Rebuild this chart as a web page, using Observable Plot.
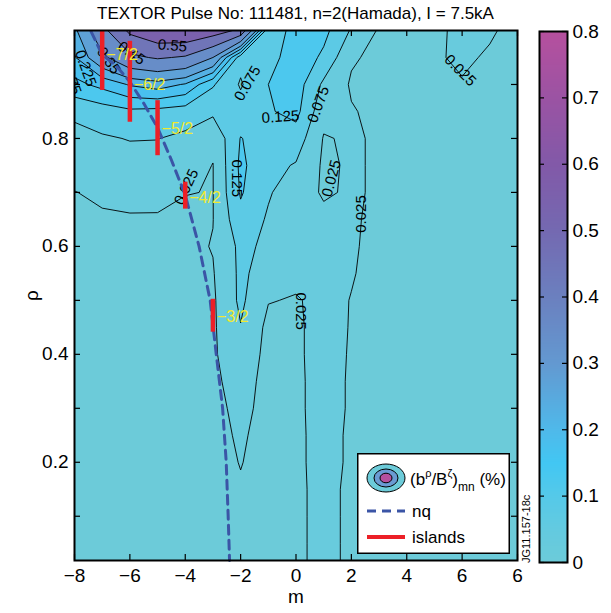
<!DOCTYPE html>
<html>
<head>
<meta charset="utf-8">
<script src="https://cdn.jsdelivr.net/npm/d3@7"></script>
<script src="https://cdn.jsdelivr.net/npm/@observablehq/plot@0.6"></script>
<style>
  body { margin: 0; background: #fff; font-family: "Liberation Sans", Arial, sans-serif; }
  #wrap { position: relative; width: 611px; height: 613px; overflow: hidden; background: #fff; }
  #title { position: absolute; left: 0; top: 4px; width: 591px; text-align: center; font-size: 17px; color: #000; white-space: nowrap; }
  #main { position: absolute; left: 0; top: 0; }
  #cbar { position: absolute; left: 520px; top: 0; }
  #legend { position: absolute; left: 357px; top: 453px; }
  #jg { position: absolute; left: 518px; top: 440px; }
</style>
</head>
<body>
<div id="wrap">
  <div id="main"></div>
  <div id="cbar"></div>
  <div id="title">TEXTOR Pulse No: 111481, n=2(Hamada), I = 7.5kA</div>
  <svg id="legend" width="153" height="101">
    <rect x="0.75" y="0.75" width="151.5" height="99.5" fill="#fff" stroke="#000" stroke-width="1.5"/>
    <ellipse cx="29" cy="25" rx="19" ry="14" fill="#6ccbd9" stroke="#000" stroke-width="1"/>
    <ellipse cx="29" cy="25" rx="12" ry="9" fill="#6a9bd3" stroke="#000" stroke-width="1"/>
    <ellipse cx="29" cy="25" rx="6" ry="4.8" fill="#b6509e" stroke="#000" stroke-width="1"/>
    <text x="53" y="32" font-size="17" font-family="Liberation Sans, Arial, sans-serif">(b<tspan font-size="11" dy="-8">ρ</tspan><tspan dy="8">/B</tspan><tspan font-size="11" dy="-8">ζ</tspan><tspan dy="8">)</tspan><tspan font-size="12" dy="6">mn</tspan><tspan dy="-6"> (%)</tspan></text>
    <line x1="10" y1="58" x2="48" y2="58" stroke="#3b55a6" stroke-width="3" stroke-dasharray="9,6"/>
    <text x="55" y="64" font-size="17" font-family="Liberation Sans, Arial, sans-serif">nq</text>
    <line x1="10" y1="84" x2="48" y2="84" stroke="#ec2027" stroke-width="4"/>
    <text x="55" y="90" font-size="17" font-family="Liberation Sans, Arial, sans-serif">islands</text>
  </svg>
  <svg id="jg" width="16" height="126">
    <text transform="translate(12,123) rotate(-90)" font-size="11" font-family="Liberation Sans, Arial, sans-serif">JG11.157-18c</text>
  </svg>
</div>
<script>
// ---------------- data ----------------
const mGrid = [-8, -7, -6, -5, -4, -3, -2, -1, 0, 1, 2, 3, 4, 5, 6, 7, 8];
const rhoGrid = [1.0, 0.95, 0.9, 0.85, 0.8, 0.75, 0.7, 0.65, 0.6, 0.55, 0.5, 0.45, 0.4, 0.35, 0.3, 0.25, 0.2, 0.15, 0.1, 0.05, 0.0];
// |b^rho/B^zeta|_mn (%) ; one row per rho (top to bottom), one column per m
const amplitude = [
  [0.26, 0.42, 0.57, 0.63, 0.64, 0.60, 0.53, 0.08, 0.15, 0.14, 0.07, 0.02, 0.015, 0.012, 0.04, 0.03, 0.012],
  [0.22, 0.33, 0.43, 0.46, 0.44, 0.35, 0.09, 0.10, 0.16, 0.115, 0.03, 0.015, 0.013, 0.02, 0.032, 0.02, 0.012],
  [0.16, 0.19, 0.23, 0.25, 0.22, 0.13, 0.07, 0.125, 0.15, 0.065, 0.02, 0.015, 0.013, 0.015, 0.022, 0.017, 0.012],
  [0.085, 0.10, 0.115, 0.11, 0.10, 0.085, 0.095, 0.12, 0.14, 0.04, 0.028, 0.015, 0.013, 0.013, 0.015, 0.014, 0.012],
  [0.06, 0.07, 0.077, 0.076, 0.065, 0.035, 0.127, 0.10, 0.102, 0.022, 0.03, 0.02, 0.014, 0.013, 0.013, 0.013, 0.012],
  [0.042, 0.05, 0.057, 0.058, 0.045, 0.024, 0.135, 0.09, 0.071, 0.018, 0.03, 0.02, 0.014, 0.013, 0.012, 0.012, 0.011],
  [0.024, 0.032, 0.038, 0.04, 0.026, 0.024, 0.13, 0.08, 0.047, 0.02, 0.03, 0.02, 0.014, 0.013, 0.012, 0.012, 0.011],
  [0.017, 0.02, 0.021, 0.02, 0.018, 0.024, 0.11, 0.069, 0.045, 0.035, 0.029, 0.018, 0.014, 0.013, 0.012, 0.011, 0.011],
  [0.013, 0.015, 0.015, 0.015, 0.014, 0.027, 0.086, 0.066, 0.045, 0.04, 0.029, 0.015, 0.013, 0.012, 0.012, 0.011, 0.01],
  [0.011, 0.012, 0.012, 0.013, 0.013, 0.022, 0.085, 0.052, 0.035, 0.04, 0.027, 0.015, 0.013, 0.012, 0.011, 0.011, 0.01],
  [0.01, 0.011, 0.011, 0.012, 0.012, 0.018, 0.085, 0.027, 0.022, 0.035, 0.024, 0.014, 0.012, 0.011, 0.011, 0.01, 0.01],
  [0.01, 0.01, 0.011, 0.011, 0.012, 0.018, 0.073, 0.013, 0.022, 0.032, 0.024, 0.013, 0.012, 0.011, 0.01, 0.01, 0.01],
  [0.01, 0.01, 0.01, 0.011, 0.011, 0.018, 0.06, 0.01, 0.022, 0.032, 0.0235, 0.013, 0.012, 0.011, 0.01, 0.01, 0.01],
  [0.01, 0.01, 0.01, 0.01, 0.011, 0.013, 0.05, 0.006, 0.0215, 0.032, 0.023, 0.013, 0.012, 0.011, 0.01, 0.01, 0.009],
  [0.009, 0.009, 0.01, 0.01, 0.01, 0.009, 0.04, 0.0074, 0.0215, 0.032, 0.023, 0.013, 0.012, 0.011, 0.01, 0.01, 0.009],
  [0.009, 0.009, 0.009, 0.01, 0.01, 0.0063, 0.033, 0.003, 0.021, 0.032, 0.022, 0.013, 0.012, 0.011, 0.01, 0.009, 0.009],
  [0.009, 0.009, 0.009, 0.009, 0.009, 0.005, 0.027, 0.005, 0.021, 0.032, 0.022, 0.012, 0.011, 0.01, 0.01, 0.009, 0.009],
  [0.008, 0.008, 0.009, 0.009, 0.009, 0.006, 0.02, 0.006, 0.021, 0.031, 0.021, 0.012, 0.011, 0.01, 0.009, 0.009, 0.008],
  [0.008, 0.008, 0.008, 0.008, 0.008, 0.007, 0.015, 0.008, 0.021, 0.031, 0.021, 0.012, 0.011, 0.01, 0.009, 0.009, 0.008],
  [0.008, 0.008, 0.008, 0.008, 0.008, 0.007, 0.012, 0.009, 0.021, 0.031, 0.021, 0.012, 0.011, 0.01, 0.009, 0.009, 0.008],
  [0.008, 0.008, 0.008, 0.008, 0.008, 0.007, 0.01, 0.009, 0.021, 0.031, 0.021, 0.012, 0.011, 0.01, 0.009, 0.009, 0.008]
];
const contourLevels = [0.025, 0.075, 0.125, 0.175, 0.225, 0.275, 0.35, 0.45, 0.55, 0.65];

// nq curve (m = -n q(rho))
const nqM   = [-7.4, -7.0, -6.5, -6.0, -5.5, -5.0, -4.5, -4.0, -3.5, -3.1, -2.88, -2.65, -2.52, -2.45, -2.4];
const nqRho = [0.998, 0.955, 0.935, 0.905, 0.865, 0.82, 0.76, 0.695, 0.6, 0.5, 0.4, 0.3, 0.2, 0.1, 0.018];

// islands
const islandM      = [-7, -6, -5, -4, -3];
const islandRhoLo  = [0.889, 0.83, 0.768, 0.669, 0.441];
const islandRhoHi  = [1.0, 0.98, 0.87, 0.719, 0.502];
const islandRhoLab = [0.955, 0.9, 0.818, 0.69, 0.47];
const islandText   = ["\u22127/2", "\u22126/2", "\u22125/2", "\u22124/2", "\u22123/2"];

// contour labels
const labM     = [-4.46, -5.94, -6.77, -7.6, -8.15, -1.75, -0.56, 0.81, -2.12, -3.96, 0.16, 2.36, 1.28, 5.93];
const labRho   = [0.972, 0.958, 0.944, 0.93, 0.915, 0.902, 0.84, 0.863, 0.726, 0.71, 0.48, 0.66, 0.726, 0.926];
const labText  = ["0.55", "0.45", "0.35", "0.225", "0.175", "0.075", "0.125", "0.075", "0.125", "0.025", "0.025", "0.025", "0.025", "0.025"];
const labAngle = [5, 35, 55, 70, 70, -60, -4, -70, 90, -65, 90, -90, -75, 45];

// axes
const xTicks = [-8, -6, -4, -2, 0, 2, 4, 6, 8];
const xTickLabels = ["\u22128", "\u22126", "\u22124", "\u22122", "0", "2", "4", "6", "6"];
const yTicks = [0.2, 0.4, 0.6, 0.8];
const yTickLabels = ["0.2", "0.4", "0.6", "0.8"];
const yMinorTicks = [0.1, 0.2, 0.3, 0.4, 0.5, 0.6, 0.7, 0.8, 0.9];
const cbTicks = [0, 0.1, 0.2, 0.3, 0.4, 0.5, 0.6, 0.7, 0.8];
const cbTickLabels = ["0", "0.1", "0.2", "0.3", "0.4", "0.5", "0.6", "0.7", "0.8"];

// colour map
const colorDomain = [0, 0.05, 0.1, 0.15, 0.2, 0.3, 0.4, 0.5, 0.6, 0.7, 0.8];
const colorRange  = ["#6ccbd9", "#63cae0", "#55c9e9", "#42c7f3", "#4fb9ea", "#6399d1", "#6b80bf", "#7469b1", "#8259a8", "#9b53a3", "#b6509e"];

// ---------------- build ----------------
const nx = mGrid.length, ny = rhoGrid.length;
const dm = mGrid[1] - mGrid[0], dr = rhoGrid[0] - rhoGrid[1];
const grid = {width: nx, height: ny,
  x1: mGrid[0] - dm / 2, x2: mGrid[nx - 1] + dm / 2,
  y1: rhoGrid[0] + dr / 2, y2: rhoGrid[ny - 1] - dr / 2};
const values = amplitude.flat();

const nqData = nqM.map((m, i) => ({m, rho: nqRho[i]}));
const islands = islandM.map((m, i) => ({m, lo: islandRhoLo[i], hi: islandRhoHi[i], lab: islandRhoLab[i], text: islandText[i]}));
const labels = labM.map((m, i) => ({m, rho: labRho[i], text: labText[i], angle: labAngle[i]}));

const color = {type: "linear", domain: colorDomain, range: colorRange};
const font = "Liberation Sans, Arial, Helvetica, sans-serif";

const W = 530, H = 613, mL = 74, mR = 13, mT = 30, mB = 53;
const innerW = W - mL - mR, innerH = H - mT - mB;
const tick = 6;

const main = Plot.plot({
  width: W, height: H, marginLeft: mL, marginRight: mR, marginTop: mT, marginBottom: mB,
  style: {fontFamily: font, fontSize: "19px", background: "transparent", color: "black", overflow: "visible"},
  x: {domain: [-8, 8]},
  y: {domain: [0.018, 1.0]},
  color,
  marks: [
    Plot.contour(values, {...grid, fill: Plot.identity, thresholds: [0, ...contourLevels], stroke: "none", clip: true}),
    Plot.contour(values, {...grid, value: Plot.identity, thresholds: contourLevels, fill: "none", stroke: "black", strokeWidth: 0.9, clip: true}),
    Plot.text(labels, {x: "m", y: "rho", text: "text", rotate: "angle", fontSize: 15, fill: "black", clip: true}),
    Plot.line(nqData, {x: "m", y: "rho", stroke: "#3b55a6", strokeWidth: 3, strokeDasharray: "9,6"}),
    Plot.ruleX(islands, {x: "m", y1: "lo", y2: "hi", stroke: "#ec2027", strokeWidth: 4.5}),
    Plot.text(islands, {x: "m", y: "lab", text: "text", dx: 4, textAnchor: "start", fill: "#f2ea2e", fontSize: 16}),
    Plot.tickX(xTicks, {x: d => d, insetTop: innerH - tick, stroke: "black", strokeWidth: 1.2}),
    Plot.tickX(xTicks, {x: d => d, insetBottom: innerH - tick, stroke: "black", strokeWidth: 1.2}),
    Plot.tickY(yMinorTicks, {y: d => d, insetRight: innerW - tick, stroke: "black", strokeWidth: 1.2}),
    Plot.tickY(yMinorTicks, {y: d => d, insetLeft: innerW - tick, stroke: "black", strokeWidth: 1.2}),
    Plot.frame({stroke: "black", strokeWidth: 2}),
    Plot.axisX(xTicks, {tickSize: 0, tickPadding: 8, tickFormat: d => xTickLabels[xTicks.indexOf(d)], label: "m", labelAnchor: "center", labelArrow: false, labelOffset: 42, fontSize: 19}),
    Plot.axisY(yTicks, {tickSize: 0, tickPadding: 6, tickFormat: d => yTickLabels[yTicks.indexOf(d)], label: "ρ", labelAnchor: "center", labelArrow: false, labelOffset: 50, fontSize: 19})
  ]
});
document.getElementById("main").appendChild(main);

const cW = 91, cL = 19, cR = 44;
const cInnerW = cW - cL - cR;
const cbar = Plot.plot({
  width: cW, height: H, marginLeft: cL, marginRight: cR, marginTop: mT + 1, marginBottom: mB - 2,
  style: {fontFamily: font, fontSize: "19px", background: "transparent", color: "black", overflow: "visible"},
  x: {domain: [0, 1], axis: null},
  y: {domain: [0, 0.8]},
  color,
  marks: [
    Plot.raster({x1: 0, x2: 1, y1: 0, y2: 0.8, fill: (x, y) => y, pixelSize: 1}),
    Plot.tickY(cbTicks, {y: d => d, insetRight: cInnerW - 5, stroke: "black", strokeWidth: 1.2}),
    Plot.tickY(cbTicks, {y: d => d, insetLeft: cInnerW - 5, stroke: "black", strokeWidth: 1.2}),
    Plot.frame({stroke: "black", strokeWidth: 2}),
    Plot.axisY(cbTicks, {anchor: "right", tickSize: 0, tickPadding: 5, tickFormat: d => cbTickLabels[cbTicks.indexOf(d)], label: null, fontSize: 19})
  ]
});
document.getElementById("cbar").appendChild(cbar);
</script>
</body>
</html>
